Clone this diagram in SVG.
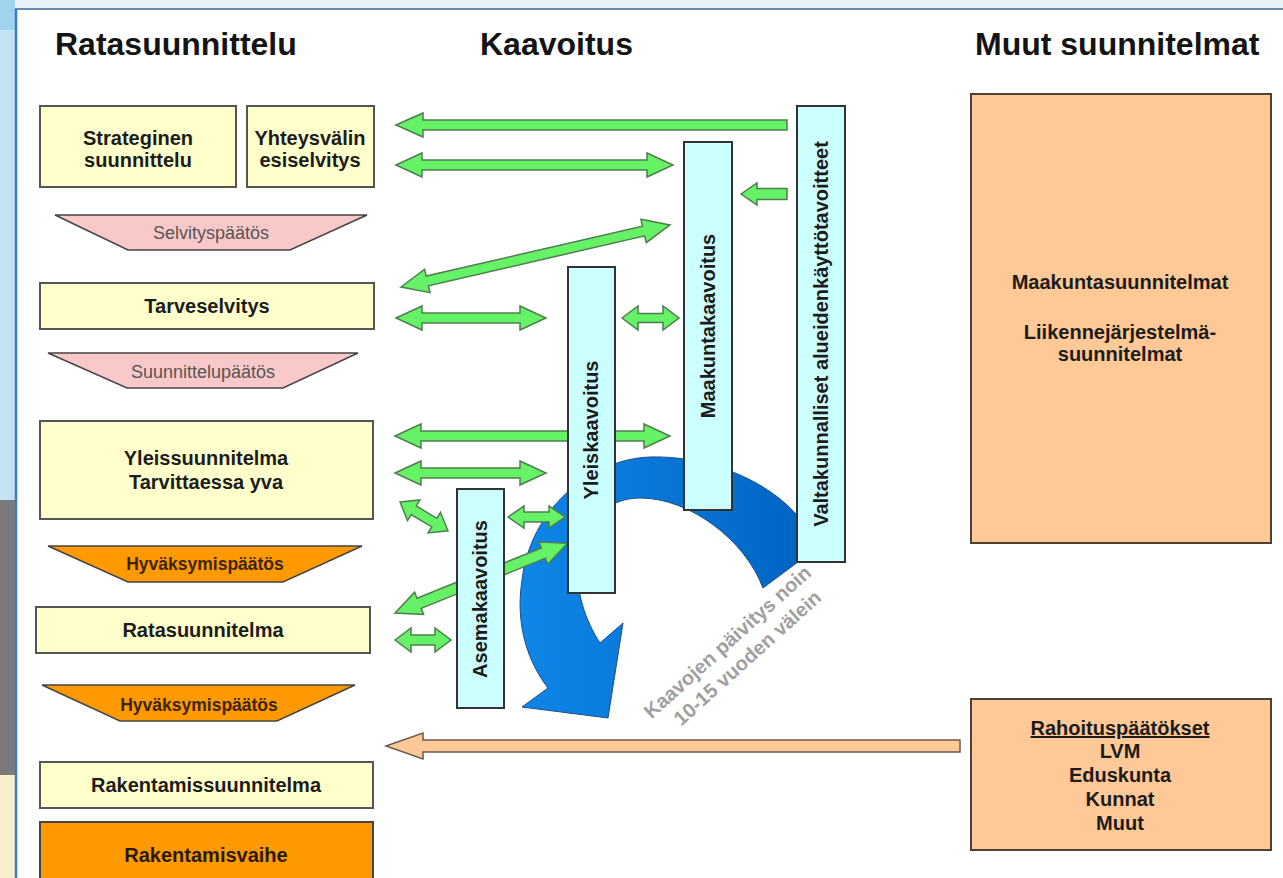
<svg xmlns="http://www.w3.org/2000/svg" width="1283" height="878" viewBox="0 0 1283 878">
<defs>
<style>
.hdr{font-family:"Liberation Sans",Arial,sans-serif;font-weight:bold;font-size:32px;fill:#141414}
.bt{font-family:"Liberation Sans",Arial,sans-serif;font-weight:bold;font-size:20px;fill:#1c1c1c;text-anchor:middle}
.dt{font-family:"Liberation Sans",Arial,sans-serif;font-size:18px;fill:#555555;text-anchor:middle}
.ht{font-family:"Liberation Sans",Arial,sans-serif;font-weight:bold;font-size:17.5px;fill:#3b2608;text-anchor:middle}
.yb{fill:#ffffcc;stroke:#555555;stroke-width:2}
.cb{fill:#ccffff;stroke:#333333;stroke-width:2}
.pb{fill:#fec996;stroke:#4e4032;stroke-width:2}
.pink{fill:#f9c9c9;stroke:#444444;stroke-width:1.5}
.org{fill:#ff9900;stroke:#444444;stroke-width:1.5}
.ga{fill:#66f266;stroke:#4f7d4f;stroke-width:1.5}
.pa{fill:#fec996;stroke:#6b5a4a;stroke-width:1.5}
.gt{font-family:"Liberation Sans",Arial,sans-serif;font-weight:bold;font-size:20px;fill:#a0a0a0;text-anchor:middle}
</style>
<linearGradient id="blueg" gradientUnits="userSpaceOnUse" x1="520" y1="0" x2="800" y2="0">
<stop offset="0" stop-color="#0e86e8"/><stop offset="0.45" stop-color="#0a78d8"/><stop offset="1" stop-color="#0064c4"/>
</linearGradient>
</defs>

<g id="background">
<rect x="0" y="0" width="1283" height="878" fill="#ffffff"/>
<rect x="0" y="0" width="1283" height="9" fill="#e6f2f8"/>
<rect x="0" y="0" width="15" height="500" fill="#c4e2f2"/>
<rect x="0" y="0" width="15" height="30" fill="#9fd3ee"/>
<rect x="0" y="500" width="15" height="275" fill="#7a7a7a"/>
<rect x="0" y="775" width="15" height="103" fill="#f6f1cc"/>
<line x1="15" y1="9" x2="1283" y2="9" stroke="#6b8bab" stroke-width="2"/>
<line x1="16" y1="9" x2="16" y2="878" stroke="#3b7dc4" stroke-width="2.5"/>
</g>

<g id="headers">
<text class="hdr" x="55" y="55">Ratasuunnittelu</text>
<text class="hdr" x="480" y="55">Kaavoitus</text>
<text class="hdr" x="975" y="55">Muut suunnitelmat</text>
</g>

<g id="strateginen"><rect class="yb" x="40" y="106" width="196" height="81"/><text class="bt" x="138" y="145">Strateginen</text><text class="bt" x="138" y="167">suunnittelu</text></g>
<g id="yhteysvalin"><rect class="yb" x="247" y="106" width="127" height="81"/><text class="bt" x="310" y="145">Yhteysvälin</text><text class="bt" x="310" y="167">esiselvitys</text></g>
<g id="selvityspaatos"><polygon class="pink" points="55,215 367,215 290,250 128,250"/><text class="dt" x="211" y="239">Selvityspäätös</text></g>
<g id="tarveselvitys"><rect class="yb" x="40" y="283" width="334" height="46"/><text class="bt" x="207" y="313">Tarveselvitys</text></g>
<g id="suunnittelupaatos"><polygon class="pink" points="48,353 358,353 283,388 127,388"/><text class="dt" x="203" y="378">Suunnittelupäätös</text></g>
<g id="yleissuunnitelma"><rect class="yb" x="40" y="421" width="333" height="98"/><text class="bt" x="206" y="465">Yleissuunnitelma</text><text class="bt" x="206" y="489">Tarvittaessa yva</text></g>
<g id="hyvaksymispaatos1"><polygon class="org" points="48,546 362,546 283,582 128,582"/><text class="ht" x="205" y="570">Hyväksymispäätös</text></g>
<g id="ratasuunnitelma"><rect class="yb" x="36" y="607" width="334" height="46"/><text class="bt" x="203" y="637">Ratasuunnitelma</text></g>
<g id="hyvaksymispaatos2"><polygon class="org" points="42,685 355,685 277,721 120,721"/><text class="ht" x="199" y="711">Hyväksymispäätös</text></g>
<g id="rakentamissuunnitelma"><rect class="yb" x="40" y="762" width="333" height="46"/><text class="bt" x="206" y="792">Rakentamissuunnitelma</text></g>
<g id="rakentamisvaihe"><rect class="org" x="40" y="822" width="333" height="70" style="stroke-width:2"/><text class="bt" x="206" y="862" style="fill:#2a1a05">Rakentamisvaihe</text></g>

<g id="cycle-arrow">
<path d="M 810 535 C 790 492 720 455 650 457 C 590 459 530 510 522 580 C 515 625 528 662 548 688 L 522 707 L 608 718 L 623 623 L 600 643 C 585 620 575 590 578 560 C 582 525 605 498 640 498 C 690 498 745 540 763 588 L 810 553 Z" fill="url(#blueg)" stroke="#1b4f8a" stroke-width="1"/>
<text class="gt" x="732" y="647" transform="rotate(-42 732 647)">Kaavojen päivitys noin</text>
<text class="gt" x="752" y="663" transform="rotate(-42 752 663)">10-15 vuoden välein</text>
</g>

<g id="connectors">
<polygon class="ga" transform="translate(396,125)" points="0,0 27,-12 27,-5 391,-5 391,5 27,5 27,12"/>
<polygon class="ga" transform="translate(396,165)" points="0,0 26,-12 26,-5 251,-5 251,-12 277,0 251,12 251,5 26,5 26,12"/>
<polygon class="ga" transform="translate(741,194)" points="0,0 16,-11 16,-5.5 46,-5.5 46,5.5 16,5.5 16,11"/>
<polygon class="ga" transform="translate(401,287) rotate(-13)" points="0,0 27,-12 27,-5 249,-5 249,-12 276,0 249,12 249,5 27,5 27,12"/>
<polygon class="ga" transform="translate(396,318)" points="0,0 26,-12 26,-5 124,-5 124,-12 150,0 124,12 124,5 26,5 26,12"/>
<polygon class="ga" transform="translate(622,318)" points="0,0 16,-12 16,-4.5 41,-4.5 41,-12 57,0 41,12 41,4.5 16,4.5 16,12"/>
<polygon class="ga" transform="translate(395,436)" points="0,0 26,-12 26,-5 249,-5 249,-12 275,0 249,12 249,5 26,5 26,12"/>
<polygon class="ga" transform="translate(395,473)" points="0,0 26,-12 26,-5 125,-5 125,-12 151,0 125,12 125,5 26,5 26,12"/>
<polygon class="ga" transform="translate(400,502) rotate(31)" points="0,0 16,-12 16,-5 40,-5 40,-12 56,0 40,12 40,5 16,5 16,12"/>
<polygon class="ga" transform="translate(508,517)" points="0,0 16,-11 16,-5 41,-5 41,-11 57,0 41,11 41,5 16,5 16,11"/>
<polygon class="ga" transform="translate(395,613) rotate(-22)" points="0,0 26,-12 26,-5.5 160,-5.5 160,-12 186,0 160,12 160,5.5 26,5.5 26,12"/>
<polygon class="ga" transform="translate(395,640)" points="0,0 16,-12 16,-5 40,-5 40,-12 56,0 40,12 40,5 16,5 16,12"/>
<polygon class="pa" transform="translate(386,746)" points="0,0 37,-13 37,-6 574,-6 574,6 37,6 37,13"/>
</g>

<g id="valtakunnalliset"><rect class="cb" x="797" y="106" width="48" height="456"/><text class="bt" x="828" y="334" transform="rotate(-90 828 334)">Valtakunnalliset alueidenkäyttötavoitteet</text></g>
<g id="maakuntakaavoitus"><rect class="cb" x="684" y="142" width="48" height="368"/><text class="bt" x="715" y="326" transform="rotate(-90 715 326)">Maakuntakaavoitus</text></g>
<g id="yleiskaavoitus"><rect class="cb" x="568" y="267" width="47" height="326"/><text class="bt" x="598" y="430" transform="rotate(-90 598 430)">Yleiskaavoitus</text></g>
<g id="asemakaavoitus"><rect class="cb" x="457" y="489" width="47" height="219"/><text class="bt" x="487" y="599" transform="rotate(-90 487 599)">Asemakaavoitus</text></g>

<g id="maakuntasuunnitelmat"><rect class="pb" x="971" y="94" width="300" height="449"/><text class="bt" x="1120" y="289">Maakuntasuunnitelmat</text><text class="bt" x="1120" y="339">Liikennejärjestelmä-</text><text class="bt" x="1120" y="361">suunnitelmat</text></g>
<g id="rahoituspaatokset"><rect class="pb" x="971" y="699" width="300" height="151"/><text class="bt" x="1120" y="735" text-decoration="underline">Rahoituspäätökset</text><text class="bt" x="1120" y="758">LVM</text><text class="bt" x="1120" y="782">Eduskunta</text><text class="bt" x="1120" y="806">Kunnat</text><text class="bt" x="1120" y="830">Muut</text></g>
</svg>
